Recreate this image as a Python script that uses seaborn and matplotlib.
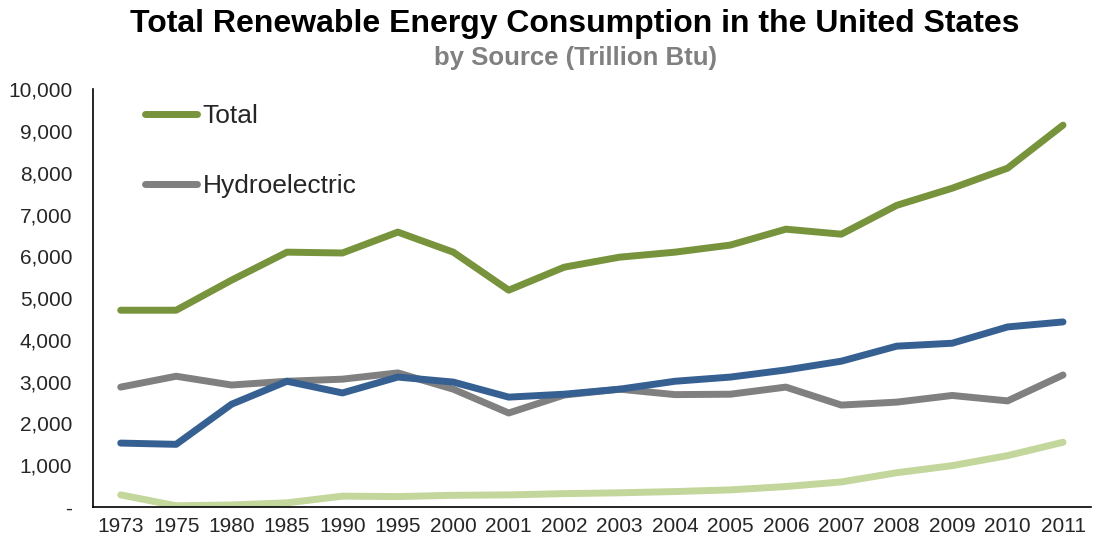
import pandas as pd
import matplotlib
matplotlib.use("Agg")
import matplotlib.pyplot as plt
import seaborn as sns
from matplotlib.ticker import FuncFormatter, FixedLocator

# Datos (Trillion Btu)
years = ["1973", "1975", "1980", "1985", "1990", "1995", "2000", "2001", "2002",
         "2003", "2004", "2005", "2006", "2007", "2008", "2009", "2010", "2011"]
total = [4710, 4710, 5430, 6100, 6080, 6580, 6100, 5190, 5740,
         5980, 6100, 6270, 6650, 6530, 7220, 7630, 8110, 9140]
hydro = [2870, 3130, 2920, 3010, 3060, 3210, 2820, 2250, 2680,
         2820, 2690, 2700, 2870, 2440, 2510, 2670, 2540, 3160]
biomass = [1530, 1500, 2460, 3010, 2730, 3110, 2990, 2630, 2700,
           2820, 3010, 3110, 3280, 3490, 3850, 3920, 4310, 4430]
otras = [290, 30, 50, 100, 260, 250, 280, 290, 320,
         340, 370, 410, 490, 600, 820, 990, 1230, 1550]

series = {"Total": total, "Hydroelectric": hydro, "Biomass": biomass,
          "Geothermal, Solar, Wind": otras}
colores = {"Total": "#77933C", "Hydroelectric": "#808080", "Biomass": "#376092",
           "Geothermal, Solar, Wind": "#C3D69B"}

filas = []
for nombre, valores in series.items():
    for i, v in enumerate(valores):
        filas.append({"pos": i, "anio": years[i], "serie": nombre, "valor": v})
df = pd.DataFrame(filas)

sns.set_style("white")
plt.rcParams['font.family'] = ['Liberation Sans', 'DejaVu Sans']

fig = plt.figure(figsize=(10.94, 5.44), dpi=100)
ax = fig.add_axes([0.085, 0.068, 0.912, 0.768])

orden = ["Geothermal, Solar, Wind", "Hydroelectric", "Biomass", "Total"]
sns.lineplot(data=df, x="pos", y="valor", hue="serie", hue_order=orden,
             palette=colores, linewidth=5, ax=ax, legend=False,
             solid_capstyle="round")

ax.set_xlim(-0.5, len(years) - 0.5)
ax.set_ylim(0, 10000)
ax.set_yticks(range(0, 10001, 1000))
ax.yaxis.set_major_formatter(FuncFormatter(lambda v, p: "-" if v == 0 else f"{int(v):,}"))
ax.set_xticks(range(len(years)))
ax.set_xticklabels(years)
ax.xaxis.set_minor_locator(FixedLocator([i - 0.5 for i in range(len(years) + 1)]))
ax.tick_params(axis="x", which="major", length=0, labelsize=15, pad=7)
ax.tick_params(axis="x", which="minor", length=5, width=1, direction="out", color="black")
ax.tick_params(axis="y", length=5, width=1, direction="out", color="black", labelsize=15, pad=10)
ax.set_xlabel("")
ax.set_ylabel("")

for lado in ["top", "right"]:
    ax.spines[lado].set_visible(False)
for lado in ["left", "bottom"]:
    ax.spines[lado].set_color("black")
    ax.spines[lado].set_linewidth(1.2)

# Leyenda solo con Total e Hidroelectrica
handles = [plt.Line2D([], [], color=colores["Total"], lw=5, solid_capstyle="round"),
           plt.Line2D([], [], color=colores["Hydroelectric"], lw=5, solid_capstyle="round")]
ax.legend(handles, ["Total", "Hydroelectric"], loc="upper left", bbox_to_anchor=(0.028, 1.022),
          frameon=False, fontsize=19, handlelength=2.0, handletextpad=0.2, labelspacing=1.75)

fig.text(0.525, 0.955, "Total Renewable Energy Consumption in the United States",
         ha="center", va="center", fontsize=23, fontweight="bold", color="black")
fig.text(0.526, 0.893, "by Source (Trillion Btu)", ha="center", va="center",
         fontsize=18.5, fontweight="bold", color="#808080")

plt.savefig("out.png", dpi=100)
